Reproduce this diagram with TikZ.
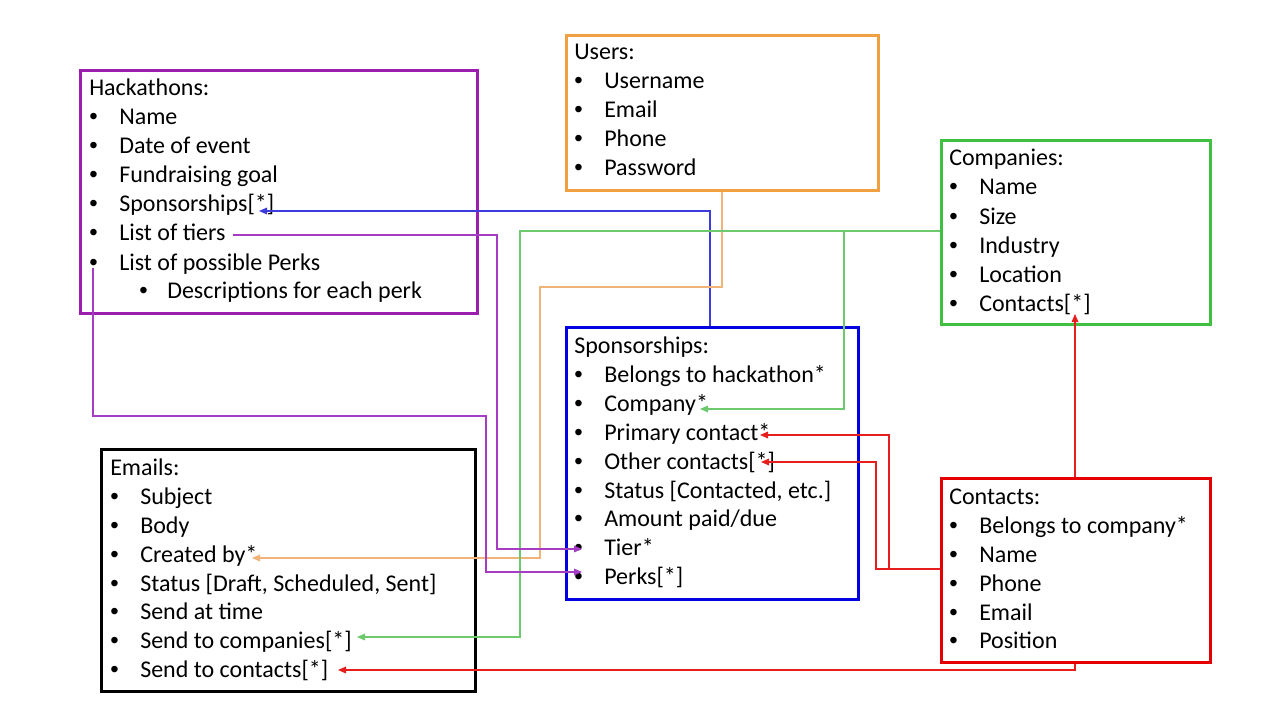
\documentclass[tikz,border=0pt]{standalone}
\usepackage{fontspec}
\setmainfont{Carlito}
\newfontfamily\bulfont{Liberation Sans}
\usetikzlibrary{arrows.meta,calc}
\definecolor{cpurple}{RGB}{155,30,175}
\definecolor{corange}{RGB}{240,160,64}
\definecolor{cgreen}{RGB}{64,192,64}
\definecolor{cblue}{RGB}{0,0,225}
\definecolor{cred}{RGB}{228,0,0}
\definecolor{lpurple}{RGB}{165,60,195}
\definecolor{lorange}{RGB}{240,180,120}
\definecolor{lgreen}{RGB}{110,200,110}
\definecolor{lblue}{RGB}{60,60,220}
\definecolor{lred}{RGB}{230,30,30}
\tikzset{
  box/.style={draw=#1, line width=2.3pt, anchor=north west, inner sep=0pt, rectangle},
  txt/.style={anchor=base west, inner sep=0pt, font=\fontsize{18}{21}\selectfont},
  bultxt/.style={anchor=base west, inner sep=0pt, font=\bulfont\fontsize{18}{21}\selectfont},
  conn/.style={draw=#1, line width=0.8pt, -{Triangle[length=6pt,width=5pt]}},
}
\newcommand\entry[4]{% name, x, y(center), text
  \node[txt] (#1) at (#2,#3+8) {#4};}
\newcommand\bul[2]{\node[bultxt] at (#1,#2+8) {•};}
\begin{document}
\begin{tikzpicture}[x=0.75pt,y=-0.75pt]
\useasboundingbox[fill=white] (0,0) rectangle (1280,720);

% boxes
\node[box=cpurple, minimum width=397*0.75pt, minimum height=243*0.75pt] (hack) at (79,69) {};
\node[box=corange, minimum width=312*0.75pt, minimum height=155*0.75pt] (users) at (565,34) {};
\node[box=cgreen, minimum width=269*0.75pt, minimum height=184*0.75pt] (comp) at (940,139) {};
\node[box=cblue, minimum width=292*0.75pt, minimum height=272*0.75pt] (spons) at (565,326) {};
\node[box=black, minimum width=374*0.75pt, minimum height=242*0.75pt] (emails) at (100,448) {};
\node[box=cred, minimum width=269*0.75pt, minimum height=184*0.75pt] (contacts) at (940,477) {};

% Hackathons
\entry{h0}{89}{88}{Hackathons:}
\bul{89}{117}\entry{h1}{119}{117}{Name}
\bul{89}{146}\entry{h2}{119}{146}{Date of event}
\bul{89}{175}\entry{h3}{119}{175}{Fundraising goal}
\bul{89}{204}\entry{h4}{119}{204}{Sponsorships[*]}
\bul{89}{233}\entry{h5}{119}{233}{List of tiers}
\bul{89}{262}\entry{h6}{119}{262}{List of possible Perks}
\bul{139}{290}\entry{h7}{167}{290}{Descriptions for each perk}

% Users
\entry{u0}{574}{52}{Users:}
\bul{574}{81}\entry{u1}{604}{81}{Username}
\bul{574}{110}\entry{u2}{604}{110}{Email}
\bul{574}{139}\entry{u3}{604}{139}{Phone}
\bul{574}{168}\entry{u4}{604}{168}{Password}

% Companies
\entry{c0}{949}{158}{Companies:}
\bul{949}{187}\entry{c1}{979}{187}{Name}
\bul{949}{216}\entry{c2}{979}{216}{Size}
\bul{949}{245}\entry{c3}{979}{245}{Industry}
\bul{949}{274}\entry{c4}{979}{274}{Location}
\bul{949}{303}\entry{c5}{979}{303}{Contacts[*]}

% Sponsorships
\entry{s0}{574}{345}{Sponsorships:}
\bul{574}{374}\entry{s1}{604}{374}{Belongs to hackathon*}
\bul{574}{403}\entry{s2}{604}{403}{Company*}
\bul{574}{432}\entry{s3}{604}{432}{Primary contact*}
\bul{574}{461}\entry{s4}{604}{461}{Other contacts[*]}
\bul{574}{490}\entry{s5}{604}{490}{Status [Contacted, etc.]}
\bul{574}{518}\entry{s6}{604}{518}{Amount paid/due}
\bul{574}{547}\entry{s7}{604}{547}{Tier*}
\bul{574}{576}\entry{s8}{604}{576}{Perks[*]}

% Emails
\entry{e0}{110}{467}{Emails:}
\bul{110}{496}\entry{e1}{140}{496}{Subject}
\bul{110}{525}\entry{e2}{140}{525}{Body}
\bul{110}{554}\entry{e3}{140}{554}{Created by*}
\bul{110}{583}\entry{e4}{140}{583}{Status [Draft, Scheduled, Sent]}
\bul{110}{611}\entry{e5}{140}{611}{Send at time}
\bul{110}{640}\entry{e6}{140}{640}{Send to companies[*]}
\bul{110}{669}\entry{e7}{140}{669}{Send to contacts[*]}

% Contacts
\entry{k0}{949}{496}{Contacts:}
\bul{949}{525}\entry{k1}{979}{525}{Belongs to company*}
\bul{949}{554}\entry{k2}{979}{554}{Name}
\bul{949}{583}\entry{k3}{979}{583}{Phone}
\bul{949}{612}\entry{k4}{979}{612}{Email}
\bul{949}{640}\entry{k5}{979}{640}{Position}

% arrow end points
\coordinate (tSpons) at (259,211);
\coordinate (tCreated) at (252,558);
\coordinate (tSendComp) at (357,637);
\coordinate (tCompany) at (700,409);
\coordinate (tTier) at (582,549);
\coordinate (tPerks) at (582,572);
\coordinate (tPrimary) at (760,435);
\coordinate (tOther) at (761,462);
\coordinate (tCContacts) at (1075,314);
\coordinate (tSendCont) at (338,670);
\coordinate (sTiers) at (233,235);
\coordinate (sPerks) at (93,268);

% connectors
\draw[conn=lblue] (spons.north west -| 710,0) -- (710,211) -- (tSpons);
\draw[conn=lorange] (users.south west -| 722,0) -- (722,287) -- (540,287) -- (540,558) -- (tCreated);
\draw[conn=lgreen] (comp.west |- 0,231) -- (520,231) -- (520,637) -- (tSendComp);
\draw[conn=lgreen] (844,231) -- (844,409) -- (tCompany);
\draw[conn=lpurple] (sTiers) -- (497,235) -- (497,549) -- (tTier);
\draw[conn=lpurple] (sPerks) -- (93,416) -- (486,416) -- (486,572) -- (tPerks);
\draw[conn=lred] (contacts.north west -| 1075,0) -- (tCContacts);
\draw[conn=lred] (contacts.west |- 0,569) -- (889,569) -- (889,435) -- (tPrimary);
\draw[conn=lred] (889,569) -- (876,569) -- (876,462) -- (tOther);
\draw[conn=lred] (contacts.south west -| 1075,0) -- (1075,670) -- (tSendCont);
\end{tikzpicture}
\end{document}
